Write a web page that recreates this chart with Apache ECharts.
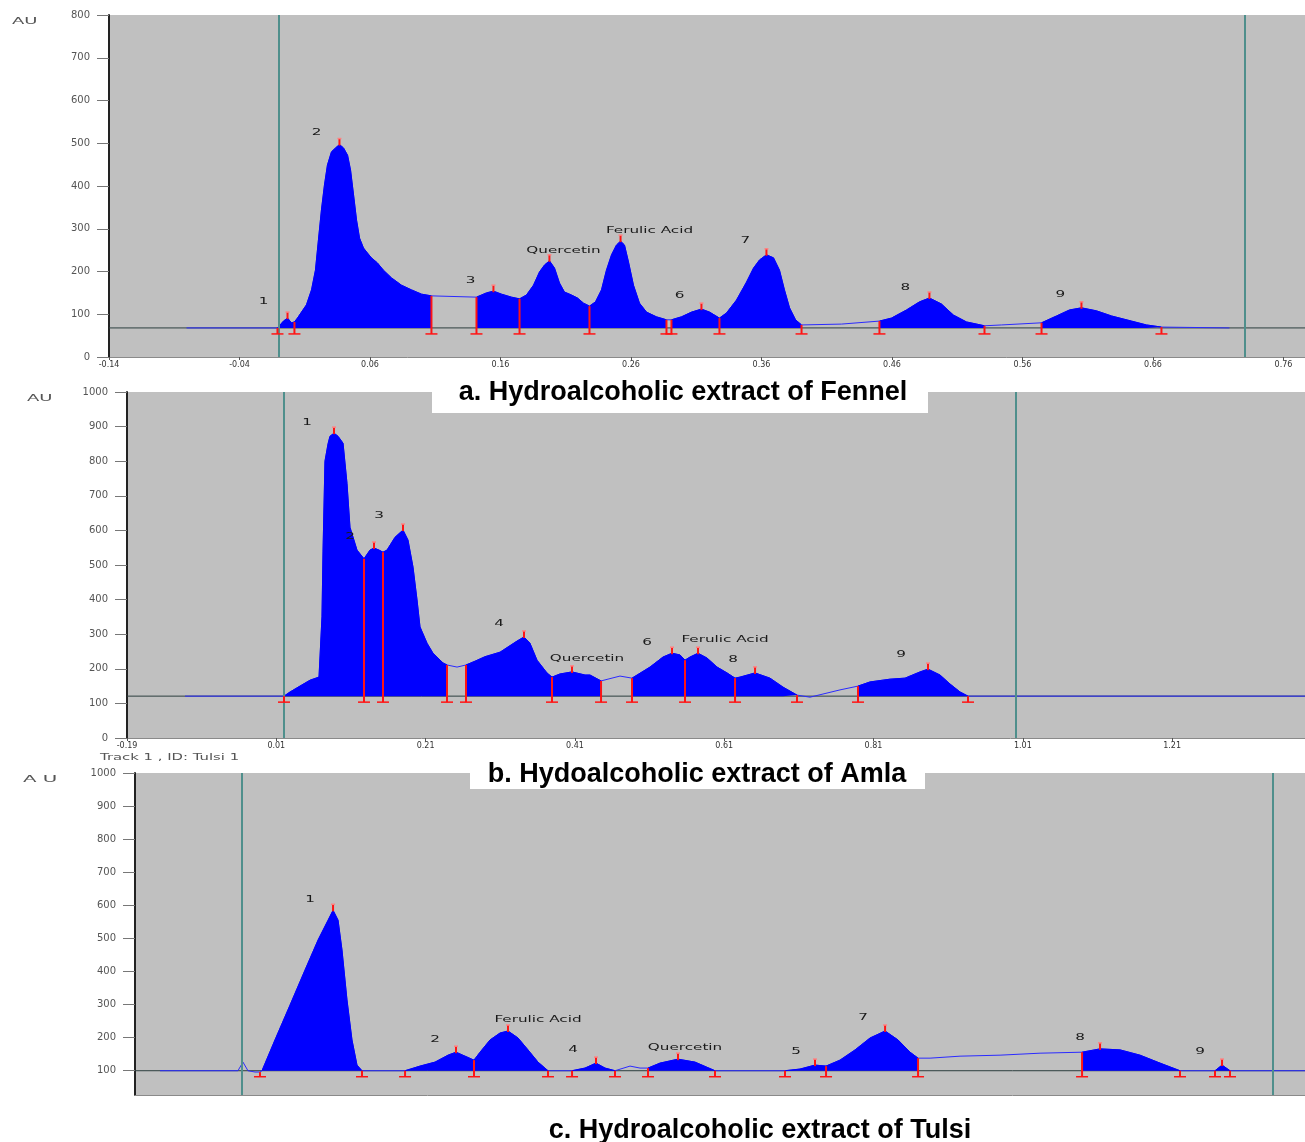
<!DOCTYPE html>
<html><head><meta charset="utf-8">
<script src="https://cdn.jsdelivr.net/npm/echarts@6/dist/echarts.min.js"></script>
<style>html,body{margin:0;padding:0;background:#fff}#c{width:1305px;height:1142px}</style>
</head><body><div id="c"></div>
<script>
// ---------- Fennel ----------
const fennelCurve = [[-0.0806,68],[-0.0109,68],[-0.0063,84],[-0.0032,91],[-0.0002,80],[0.0021,82],[0.0044,91],[0.0075,105],[0.0113,122],[0.0152,157],[0.0182,203],[0.0205,274],[0.0228,344],[0.0251,402],[0.0274,449],[0.0305,480],[0.0336,489],[0.0366,497],[0.0397,489],[0.0428,472],[0.0451,437],[0.0474,379],[0.0497,320],[0.0520,278],[0.0550,255],[0.0581,243],[0.0611,232],[0.0657,220],[0.0703,203],[0.0765,185],[0.0841,168],[0.0918,157],[0.0995,147],[0.1071,143],
[0.1416,140],[0.1493,150],[0.1546,154],[0.1608,147],[0.1684,140],[0.1746,136],
[0.1799,145],[0.1853,168],[0.1899,199],[0.1937,215],[0.1975,225],[0.2014,208],[0.2052,173],[0.2090,152],[0.2144,145],[0.2190,138],[0.2236,126],[0.2282,119],
[0.2328,129],[0.2374,157],[0.2412,203],[0.2451,239],[0.2489,262],[0.2520,271],[0.2550,262],[0.2581,222],[0.2619,168],[0.2665,126],[0.2719,105],[0.2795,94],[0.2872,87],
[0.2910,87],[0.2987,94],[0.3064,105],[0.3140,112],[0.3202,105],[0.3278,91],
[0.3332,103],[0.3408,133],[0.3485,175],[0.3539,208],[0.3585,227],[0.3638,239],[0.3692,232],[0.3738,203],[0.3776,157],[0.3815,115],[0.3861,87],[0.3907,75],
[0.4213,77],[0.4504,84],[0.4596,91],[0.4711,110],[0.4811,129],[0.4887,138],[0.4979,124],[0.5071,98],[0.5171,82],[0.5309,73],
[0.5439,75],[0.5746,80],[0.5861,96],[0.5960,110],[0.6052,115],[0.6167,108],[0.6282,96],[0.6435,84],[0.6550,75],[0.6665,70],[0.7186,68]];
const fennelBase = 68;
const fennelSegments = [[-0.0109,0.0021],[0.0021,0.1071],[0.1416,0.1746],[0.1746,0.2282],[0.2282,0.2872],[0.2910,0.3278],[0.3278,0.3907],[0.4504,0.5309],[0.5746,0.6665]];
const fennelBounds = [-0.0109,0.0021,0.1071,0.1416,0.1746,0.2282,0.2872,0.2910,0.3278,0.3907,0.4504,0.5309,0.5746,0.6665];
const fennelPeaks = [-0.0032,0.0366,0.1546,0.1975,0.2520,0.3140,0.3638,0.4887,0.6052];
const fennelLabelText = ['1','2','3','Quercetin','Ferulic Acid','6','7','8','9'];
const fennelLabelX = [-0.0216,0.0190,0.1370,0.2083,0.2742,0.2972,0.3477,0.4703,0.5891];
const fennelLabelY = [129,524,178,248,295,143,271,161,145];
const fennelMarkers = [-0.0109,0.7324];
const fennelXTicks = [-0.14,-0.04,0.06,0.16,0.26,0.36,0.46,0.56,0.66,0.76];

// ---------- Amla ----------
const amlaCurve = [[-0.1123,121],[0.0203,121],[0.0284,133],[0.0417,150],[0.0551,167],[0.0672,176],[0.0712,350],[0.0726,540],[0.0752,800],[0.0793,850],[0.0819,872],[0.0873,881],[0.0927,872],[0.0994,852],[0.1047,736],[0.1087,609],[0.1181,543],[0.1275,518],
[0.1355,543],[0.1409,549],[0.1476,543],[0.1529,537],
[0.1583,543],[0.1690,580],[0.1797,601],[0.1864,572],[0.1931,494],[0.1985,399],[0.2025,321],[0.2119,274],[0.2199,245],[0.2333,217],[0.2387,211],
[0.2521,205],[0.2641,211],[0.2762,222],[0.2896,235],[0.3097,248],[0.3324,280],[0.3418,292],[0.3498,274],[0.3592,225],[0.3726,188],[0.3793,176],
[0.3900,185],[0.4061,191],[0.4235,182],[0.4302,182],[0.4450,165],
[0.4704,179],[0.4865,173],
[0.5106,205],[0.5280,234],[0.5401,245],[0.5508,240],[0.5575,225],
[0.5642,234],[0.5749,245],[0.5870,231],[0.6004,205],[0.6138,188],[0.6245,173],
[0.6312,176],[0.6513,188],[0.6713,173],[0.6888,147],[0.7075,124],
[0.7249,118],[0.7651,139],[0.7892,150],
[0.8053,162],[0.8321,170],[0.8522,173],[0.8723,191],[0.8830,199],[0.8991,182],[0.9125,156],[0.9259,133],[0.9366,121],
[1.0036,121],[1.3880,121]];
const amlaBase = 121;
const amlaSegments = [[0.0203,0.1275],[0.1275,0.1529],[0.1529,0.2387],[0.2641,0.3793],[0.3793,0.4450],[0.4865,0.5575],[0.5575,0.6245],[0.6245,0.7075],[0.7892,0.9366]];
const amlaBounds = [0.0203,0.1275,0.1529,0.2387,0.2641,0.3793,0.4450,0.4865,0.5575,0.6245,0.7075,0.7892,0.9366];
const amlaPeaks = [0.0873,0.1409,0.1797,0.3418,0.4061,0.5401,0.5749,0.6513,0.8830];
const amlaLabelText = ['1','2','3','4','Quercetin','6','Ferulic Acid','8','9'];
const amlaLabelX = [0.0511,0.1087,0.1476,0.3083,0.4262,0.5066,0.6111,0.6218,0.8468];
const amlaLabelY = [910,580,641,329,228,274,283,225,240];
const amlaMarkers = [0.0203,1.0036];
const amlaXTicks = [-0.19,0.01,0.21,0.41,0.61,0.81,1.01,1.21];

// ---------- Tulsi ----------
const tulsiCurve = [[-0.0765,100],[-0.0032,100],[0.0015,126],[0.0062,100],[0.0128,96],[0.0175,96],[0.0194,100],[0.0316,193],[0.0457,298],[0.0598,404],[0.0721,495],[0.0815,555],[0.0862,585],[0.0909,555],[0.0946,465],[0.0993,314],[0.1040,193],[0.1087,117],[0.1134,100],
[0.1539,100],[0.1680,114],[0.1821,126],[0.1943,147],[0.2018,156],[0.2103,144],[0.2187,132],[0.2244,156],[0.2338,193],[0.2432,214],[0.2507,220],[0.2601,199],[0.2695,163],[0.2789,126],[0.2883,100],
[0.3109,100],[0.3231,108],[0.3334,123],[0.3419,108],[0.3513,100],
[0.3654,114],[0.3748,108],[0.3823,108],[0.3936,123],[0.4105,135],[0.4265,126],[0.4453,100],
[0.5111,100],[0.5252,105],[0.5393,117],[0.5497,114],[0.5628,132],[0.5770,163],[0.5911,199],[0.6052,220],[0.6174,193],[0.6287,156],[0.6362,138],
[0.6475,138],[0.6757,144],[0.7133,147],[0.7509,153],[0.7904,156],[0.8073,166],[0.8261,163],[0.8449,147],[0.8637,123],[0.8825,100],
[0.9154,100],[0.9220,117],[0.9295,100],[1.0000,100]];
const tulsiBase = 100;
const tulsiSegments = [[0.0194,0.1134],[0.1539,0.2187],[0.2187,0.2883],[0.3109,0.3513],[0.3823,0.4453],[0.5111,0.5497],[0.5497,0.6362],[0.7904,0.8825],[0.9154,0.9295]];
const tulsiBounds = [0.0175,0.1134,0.1539,0.2187,0.2883,0.3109,0.3513,0.3823,0.4453,0.5111,0.5497,0.6362,0.7904,0.8825,0.9154,0.9295];
const tulsiPeaks = [0.0862,0.2018,0.2507,0.3334,0.4105,0.5393,0.6052,0.8073,0.9220];
const tulsiLabelText = ['1','2','Ferulic Acid','4','Quercetin','5','7','8','9'];
const tulsiLabelX = [0.0645,0.1821,0.2789,0.3118,0.4171,0.5215,0.5845,0.7885,0.9013];
const tulsiLabelY = [616,193,253,163,169,156,259,199,156];
const tulsiMarkers = [-0.0022,0.9690];
const tulsiYTicks = [100,200,300,400,500,600,700,800,900,1000];

const panelTitles = ['a. Hydroalcoholic extract of Fennel','b. Hydoalcoholic extract of Amla','c. Hydroalcoholic extract of Tulsi'];

// ---------- helpers ----------
function interp(curve, x){
  for (let i=0;i<curve.length-1;i++){
    const a=curve[i], b=curve[i+1];
    if (x>=a[0]-1e-9 && x<=b[0]+1e-9){
      if (b[0]===a[0]) return a[1];
      return a[1]+(b[1]-a[1])*(x-a[0])/(b[0]-a[0]);
    }
  }
  return curve[curve.length-1][1];
}
const RED='#ff1414', BLUE='#0000ff', TEAL='#4f8f8c';
function panelSeries(i, curve, base, segs, bounds, peaks, lText, lX, lY, markers, xr){
  const s=[];
  s.push({type:'line', xAxisIndex:i, yAxisIndex:i, data:[[xr[0],base],[xr[1],base]], symbol:'none',
    lineStyle:{color:'#2c3e3e', width:1}, z:1, silent:true,
    markLine:{silent:true, symbol:'none', label:{show:false}, lineStyle:{color:TEAL, width:2, type:'solid'},
      data: markers.map(m=>({xAxis:m}))}});
  s.push({type:'line', xAxisIndex:i, yAxisIndex:i, data:curve, symbol:'none', showSymbol:false,
    lineStyle:{color:'#2a2aff', width:1}, z:3, silent:true});
  segs.forEach(sg=>{
    s.push({type:'line', xAxisIndex:i, yAxisIndex:i, symbol:'none', showSymbol:false, silent:true, z:4,
      data: curve.filter(p=>p[0]>=sg[0]-1e-9 && p[0]<=sg[1]+1e-9),
      lineStyle:{color:BLUE, width:1}, areaStyle:{color:BLUE, opacity:1, origin:base}});
  });
  s.push({type:'custom', xAxisIndex:i, yAxisIndex:i, z:6, silent:true,
    data: bounds.map(x=>[x, interp(curve,x)]),
    renderItem:(params, api)=>{
      const t=api.coord([api.value(0), api.value(1)]);
      const b=api.coord([api.value(0), base]);
      return {type:'group', children:[
        {type:'line', shape:{x1:t[0],y1:t[1],x2:b[0],y2:b[1]+6}, style:{stroke:RED, lineWidth:2}},
        {type:'line', shape:{x1:b[0]-6,y1:b[1]+6,x2:b[0]+6,y2:b[1]+6}, style:{stroke:RED, lineWidth:1.5}}
      ]};
    }});
  s.push({type:'custom', xAxisIndex:i, yAxisIndex:i, z:6, silent:true,
    data: peaks.map(x=>[x, interp(curve,x)]),
    renderItem:(params, api)=>{
      const t=api.coord([api.value(0), api.value(1)]);
      return {type:'group', children:[
        {type:'line', shape:{x1:t[0],y1:t[1]+1,x2:t[0],y2:t[1]-6}, style:{stroke:RED, lineWidth:2}},
        {type:'line', shape:{x1:t[0]-2,y1:t[1]-6,x2:t[0]+2,y2:t[1]-6}, style:{stroke:'#ff8080', lineWidth:1.5}}
      ]};
    }});
  s.push({type:'custom', xAxisIndex:i, yAxisIndex:i, z:7, silent:true,
    data: lX.map((x,k)=>[x, lY[k]]),
    renderItem:(params, api)=>{
      const p=api.coord([api.value(0), api.value(1)]);
      return {type:'text', x:p[0], y:p[1], scaleX:1.9,
        style:{text:lText[params.dataIndex], fill:'#1a1a1a', font:'8px "DejaVu Sans"', align:'center', verticalAlign:'middle'}};
    }});
  return s;
}

const yLab = {fontSize:10, color:'#555', fontFamily:'DejaVu Sans', margin:19, formatter:v=>String(v)};
const xLab = {fontSize:8, color:'#333', fontFamily:'DejaVu Sans', margin:4};

const grids = [
  {left:109, top:15, width:1196, height:342},
  {left:127, top:392, width:1178, height:346},
  {left:135, top:773, width:1170, height:322}
].map(g=>Object.assign(g,{show:true, backgroundColor:'#c0c0c0', borderWidth:0}));

const xr = [[-0.14,0.7765],[-0.19,1.388],[-0.10,1.00]];
const xLine = {onZero:false, lineStyle:{color:'#8a8a8a'}};
const xAxes = [
  {gridIndex:0, type:'value', min:xr[0][0], max:xr[0][1], splitLine:{show:false},
   axisLine:xLine, axisTick:{customValues:fennelXTicks, length:3, lineStyle:{color:'#555'}},
   axisLabel:Object.assign({customValues:fennelXTicks, formatter:v=>v.toFixed(2)}, xLab)},
  {gridIndex:1, type:'value', min:xr[1][0], max:xr[1][1], splitLine:{show:false},
   axisLine:xLine, axisTick:{customValues:amlaXTicks, length:3, lineStyle:{color:'#555'}},
   axisLabel:Object.assign({customValues:amlaXTicks, formatter:v=>v.toFixed(2)}, xLab)},
  {gridIndex:2, type:'value', min:xr[2][0], max:xr[2][1], splitLine:{show:false},
   axisLine:xLine, axisTick:{show:false}, axisLabel:{show:false}}
];
const yCommon = {type:'value', splitLine:{show:false}, axisLine:{show:true, onZero:false, lineStyle:{color:'#222', width:2}},
  axisTick:{show:true, length:12, lineStyle:{color:'#777'}}};
const yAxes = [
  Object.assign({gridIndex:0, min:0, max:800, interval:100, axisLabel:yLab}, yCommon),
  Object.assign({gridIndex:1, min:0, max:1000, interval:100, axisLabel:yLab}, yCommon),
  Object.assign({gridIndex:2, min:26.6, max:1000}, yCommon,
    {axisTick:{show:true, length:12, lineStyle:{color:'#777'}, customValues:tulsiYTicks},
     axisLabel:Object.assign({customValues:tulsiYTicks}, yLab)})
];

const series = [].concat(
  panelSeries(0, fennelCurve, fennelBase, fennelSegments, fennelBounds, fennelPeaks, fennelLabelText, fennelLabelX, fennelLabelY, fennelMarkers, xr[0]),
  panelSeries(1, amlaCurve, amlaBase, amlaSegments, amlaBounds, amlaPeaks, amlaLabelText, amlaLabelX, amlaLabelY, amlaMarkers, xr[1]),
  panelSeries(2, tulsiCurve, tulsiBase, tulsiSegments, tulsiBounds, tulsiPeaks, tulsiLabelText, tulsiLabelX, tulsiLabelY, tulsiMarkers, xr[2])
);

const tFont = 'bold 27px "Liberation Sans"';
const graphic = [
  {type:'rect', shape:{x:432,y:375,width:496,height:38}, style:{fill:'#fff'}, z:50},
  {type:'text', x:683, y:393, z:51, style:{text:panelTitles[0], font:tFont, fill:'#000', align:'center', verticalAlign:'middle'}},
  {type:'rect', shape:{x:470,y:762,width:455,height:27}, style:{fill:'#fff'}, z:50},
  {type:'text', x:697, y:775, z:51, style:{text:panelTitles[1], font:tFont, fill:'#000', align:'center', verticalAlign:'middle'}},
  {type:'text', x:760, y:1131, z:51, style:{text:panelTitles[2], font:tFont, fill:'#000', align:'center', verticalAlign:'middle'}},
  {type:'text', x:12, y:22, scaleX:2, z:51, style:{text:'AU', font:'9px "DejaVu Sans"', fill:'#555', verticalAlign:'middle'}},
  {type:'text', x:27, y:399, scaleX:2, z:51, style:{text:'AU', font:'9px "DejaVu Sans"', fill:'#555', verticalAlign:'middle'}},
  {type:'text', x:23, y:780, scaleX:2.2, z:51, style:{text:'A U', font:'9px "DejaVu Sans"', fill:'#555', verticalAlign:'middle'}},
  {type:'text', x:100, y:758, scaleX:1.65, z:51, style:{text:'Track 1 , ID: Tulsi 1', font:'9px "DejaVu Sans"', fill:'#555', verticalAlign:'middle'}}
];

const chart = echarts.init(document.getElementById('c'), null, {renderer:'canvas'});
chart.setOption({animation:false, backgroundColor:'#fff', grid:grids, xAxis:xAxes, yAxis:yAxes, series, graphic});
</script></body></html>
